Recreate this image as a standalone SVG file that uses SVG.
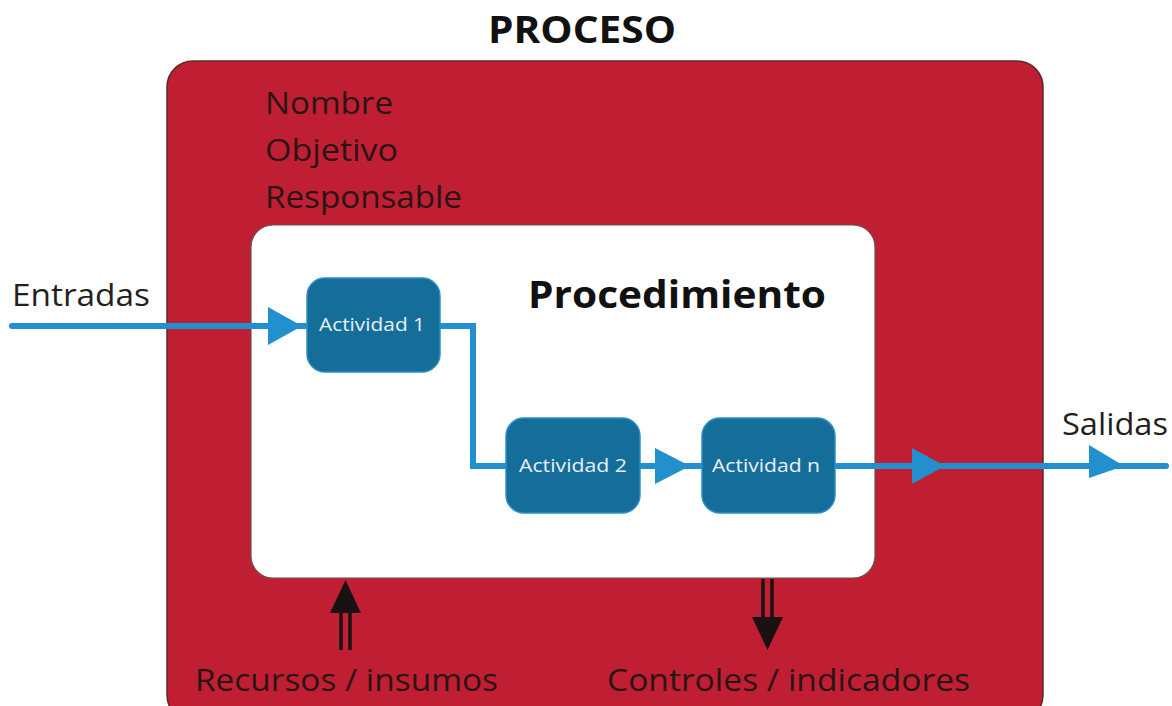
<svg xmlns="http://www.w3.org/2000/svg" width="1172" height="706" viewBox="0 0 1172 706">
<style>
text{font-family:"Open Sans","Noto Sans",sans-serif}
.lbl{font-size:31px;fill:#231f20}
.dark{fill:#2a1414}
.act rect{fill:#156d9a;stroke:#2a8fc4;stroke-width:1.5}
.act text{font-size:18px;fill:#e8f0f5;text-anchor:middle}
.flow{fill:none;stroke:#2190cc;stroke-width:6;stroke-linecap:round;stroke-linejoin:miter}
.head{fill:#2190cc}
.bk{stroke:#1a1212;stroke-width:3.5;fill:none}
.bkh{fill:#1a1212}
</style>
<rect width="1172" height="706" fill="#ffffff"/>
<g id="proceso">
<text x="488" y="43" font-size="38" font-weight="bold" fill="#111" textLength="188" lengthAdjust="spacingAndGlyphs">PROCESO</text>
<rect x="167" y="61" width="876" height="660" rx="26" fill="#c01f33" stroke="#5a2a2a" stroke-width="1.5"/>
<text class="lbl dark" x="265" y="114" textLength="128" lengthAdjust="spacingAndGlyphs">Nombre</text>
<text class="lbl dark" x="265" y="161" textLength="133" lengthAdjust="spacingAndGlyphs">Objetivo</text>
<text class="lbl dark" x="265" y="208" textLength="197" lengthAdjust="spacingAndGlyphs">Responsable</text>
</g>
<g id="procedimiento">
<rect x="251" y="225" width="624" height="353" rx="22" fill="#ffffff" stroke="#6b5050" stroke-width="1.2"/>
<text x="528" y="308" font-size="37" font-weight="bold" fill="#111" textLength="298" lengthAdjust="spacingAndGlyphs">Procedimiento</text>
</g>
<g id="connectors">
<path class="flow" d="M12 326 H307"/>
<polygon class="head" points="268,307 302,326 268,345"/>
<path class="flow" d="M440 326 H473 V466 H506"/>
<path class="flow" d="M640 466 H702"/>
<polygon class="head" points="655,448 690,466 655,484"/>
<path class="flow" d="M835 466 H1166"/>
<polygon class="head" points="912,448 945,466 912,484"/>
<polygon class="head" points="1089,445 1124,466 1089,478"/>
<line class="bk" x1="341" y1="608" x2="341" y2="650"/>
<line class="bk" x1="350" y1="608" x2="350" y2="650"/>
<polygon class="bkh" points="330,613 345.5,580 361,613"/>
<line class="bk" x1="763" y1="579" x2="763" y2="622"/>
<line class="bk" x1="772" y1="579" x2="772" y2="622"/>
<polygon class="bkh" points="752,617 767.5,650 783,617"/>
</g>
<g id="entradas"><text class="lbl" x="12" y="306" textLength="138" lengthAdjust="spacingAndGlyphs">Entradas</text></g>
<g id="salidas"><text class="lbl" x="1062" y="435" textLength="106" lengthAdjust="spacingAndGlyphs">Salidas</text></g>
<g id="actividad1" class="act"><rect x="307" y="278" width="133" height="94" rx="18"/><text x="372" y="331" textLength="106" lengthAdjust="spacingAndGlyphs">Actividad 1</text></g>
<g id="actividad2" class="act"><rect x="506" y="418" width="134" height="95" rx="18"/><text x="573" y="472" textLength="108" lengthAdjust="spacingAndGlyphs">Actividad 2</text></g>
<g id="actividadn" class="act"><rect x="702" y="418" width="133" height="95" rx="18"/><text x="766" y="472" textLength="108" lengthAdjust="spacingAndGlyphs">Actividad n</text></g>
<g id="recursos"><text class="lbl dark" x="195" y="691" textLength="303" lengthAdjust="spacingAndGlyphs">Recursos / insumos</text></g>
<g id="controles"><text class="lbl dark" x="607" y="691" textLength="363" lengthAdjust="spacingAndGlyphs">Controles / indicadores</text></g>
</svg>
